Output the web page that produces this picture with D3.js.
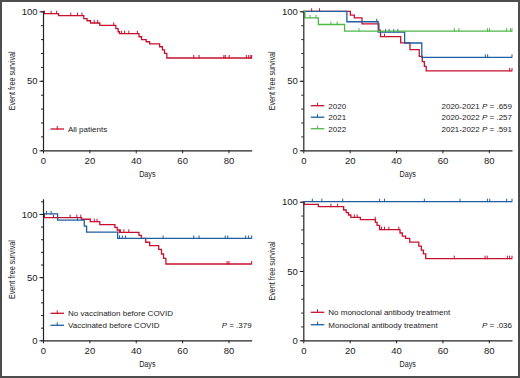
<!DOCTYPE html>
<html>
<head>
<meta charset="utf-8">
<script src="https://cdn.jsdelivr.net/npm/d3@7"></script>
<style>
  body { margin: 0; background: #fff; }
  svg { display: block; }
</style>
</head>
<body>
<svg id="chart"></svg>
<script>
// --- Daten ---
const dayTicks = [0, 20, 40, 60, 80];
const survTicks = [0, 50, 100];
const maxDay = 90;

// Panel A: alle Patienten
const allSteps = [[0,100],[0.6,98.3],[6.7,96.9],[17.6,94.7],[19,93.2],[20.5,91.6],[24.5,89.9],
  [31.4,87.5],[32.4,85.3],[33,83.9],[41.4,81.7],[42.5,79.6],[44.5,78.1],[46,76.5],
  [50.3,74.5],[51.5,72.2],[52.4,69.8],[53.4,66.4]];
const allCens = [3.5,5.9,12,14.9,16.8,22.1,23.6,30.5,33.9,35.2,37,40.7,65,67.3,78,78.6,80.3,87.7,88.7,89.6,90];

// Panel B: nach Jahr
const y2020Steps = [[0,100],[20.3,97.2],[22,95.2],[25.3,91],[32.6,86.4],[33.3,81.8],[42,77.3],
  [46,72.4],[50,67.6],[51.3,63.8],[52.2,60.4],[53,57.1]];
const y2020Cens = [3.6,7,35,89,90];
const y2021Steps = [[0,100],[18.8,92.5],[32.3,85],[43.7,77.2],[51.1,66.9]];
const y2021Cens = [31.7,35.5,37,39,40.8,78.5,79.5,90];
const y2022Steps = [[0,100],[0.7,95.2],[6.5,90.5],[17.8,85.7]];
const y2022Cens = [2.9,5.5,11.9,14.6,24,65.1,67.1,79.4,80.3,87.6,89.4,90];
const yearP = [["2020-2021", ".659"], ["2020-2022", ".257"], ["2021-2022", ".591"]];

// Panel C: Impfung
const noVaxSteps = [[0,100],[0.6,97.1],[16.6,95.8],[20.4,93.9],[24.5,91.6],[31,89.4],[32,87.3],
  [32.9,85.5],[41.4,83.1],[42.4,80.7],[44.3,77.6],[46,74.9],[49.9,72],[51.1,68.3],[52,64.9],[53,60.4]];
const noVaxCens = [4.5,11.7,14.6,16.3,22.1,23.3,33.4,34.9,37,79.4,80.2,90];
const vaxSteps = [[0,100],[6.3,95.2],[17.8,90.3],[18.8,85.6],[32.2,80.6]];
const vaxCens = [1.5,3.5,14.9,33,34.2,35.6,51.8,65,67.3,78.6,79.7,87.4,88.7,90];
const vaxP = ".379";

// Panel D: monoklonale Antikoerper
const noMabSteps = [[0,100],[0.4,98.1],[6.5,96.4],[17.4,94],[18.5,92.1],[19.5,90.4],[20.5,88.7],
  [24.6,87],[31.1,85.1],[31.8,82.9],[32.9,79.8],[41.7,77.4],[42.7,75.2],[44.1,73.6],[45.9,70.9],
  [49.8,68],[50.9,65.1],[51.8,62.3],[52.8,58.9]];
const noMabCens = [11.9,14.8,22,23.2,31,33.7,35,36.9,41.2,65.1,78.4,79.3,88,89,90];
const mabSteps = [[0,100]];
const mabCens = [3.9,8,17,32.9,35,52.2,67.6,79.4,80.4,87.7,90];
const mabP = ".036";

// --- Farben / Layout ---
const RED = "#c8102e", BLUE = "#1f5f9e", GREEN = "#4fb848";
const width = 520, height = 378;
const plotW = 208.7;
const font = "'Liberation Sans', Arial, sans-serif";

const svg = d3.select("#chart")
  .attr("width", width)
  .attr("height", height)
  .attr("viewBox", `0 0 ${width} ${height}`);

svg.append("rect")
  .attr("width", width).attr("height", height)
  .attr("fill", "#fff");

const panels = [
  { x0: 43, yTop: 11.3, yBottom: 150.3, yMax: 100,
    series: [{ name: "All patients", steps: allSteps, cens: allCens, color: RED }],
    legendY: [129], pRows: [] },
  { x0: 303.3, yTop: 11.3, yBottom: 150.3, yMax: 100,
    series: [
      { name: "2020", steps: y2020Steps, cens: y2020Cens, color: RED },
      { name: "2021", steps: y2021Steps, cens: y2021Cens, color: BLUE },
      { name: "2022", steps: y2022Steps, cens: y2022Cens, color: GREEN }],
    legendY: [105.7, 117.2, 128.7],
    pRows: yearP.map((p, i) => ({ label: p[0] + " ", val: p[1], y: [105.7, 117.2, 128.7][i] })) },
  { x0: 43, yTop: 198.8, yBottom: 340.3, yMax: 112,
    series: [
      { name: "No vaccination before COVID", steps: noVaxSteps, cens: noVaxCens, color: RED },
      { name: "Vaccinated before COVID", steps: vaxSteps, cens: vaxCens, color: BLUE }],
    legendY: [313.3, 325.3],
    pRows: [{ label: "", val: vaxP, y: 325.3 }] },
  { x0: 303.3, yTop: 201.7, yBottom: 340.3, yMax: 100,
    series: [
      { name: "No monoclonal antibody treatment", steps: noMabSteps, cens: noMabCens, color: RED },
      { name: "Monoclonal antibody treatment", steps: mabSteps, cens: mabCens, color: BLUE }],
    legendY: [312.3, 324.7],
    pRows: [{ label: "", val: mabP, y: 324.7 }] }
];

panels.forEach(drawPanel);

function drawPanel(p) {
  const x = d3.scaleLinear().domain([0, maxDay]).range([p.x0, p.x0 + plotW]);
  const y = d3.scaleLinear().domain([0, p.yMax]).range([p.yBottom, p.yTop]);
  const g = svg.append("g");

  // Kurven
  p.series.forEach(s => {
    const pts = s.steps.concat([[maxDay, s.steps[s.steps.length - 1][1]]]);
    g.append("path")
      .attr("d", d3.line().x(d => x(d[0])).y(d => y(d[1])).curve(d3.curveStepAfter)(pts))
      .attr("fill", "none")
      .attr("stroke", s.color)
      .attr("stroke-width", 1.3);

    const bis = d3.bisector(d => d[0]).right;
    g.selectAll(null)
      .data(s.cens)
      .join("line")
      .attr("x1", d => x(d)).attr("x2", d => x(d))
      .attr("y1", d => y(s.steps[bis(s.steps, d) - 1][1]) + 0.5)
      .attr("y2", d => y(s.steps[bis(s.steps, d) - 1][1]) - 3)
      .attr("stroke", s.color)
      .attr("stroke-width", 1);
  });

  // Achsen
  const yMinor = d3.range(0, p.yMax + 0.1, 10);
  g.append("g")
    .attr("transform", `translate(${p.x0},0)`)
    .call(d3.axisLeft(y).tickValues(yMinor).tickSize(2).tickSizeOuter(0).tickFormat(""));
  g.append("g")
    .attr("transform", `translate(${p.x0},0)`)
    .call(d3.axisLeft(y).tickValues(survTicks).tickSize(3.5).tickSizeOuter(0).tickPadding(2))
    .call(a => a.select(".domain").remove());

  g.append("g")
    .attr("transform", `translate(0,${p.yBottom})`)
    .call(d3.axisBottom(x).tickValues(dayTicks).tickSize(3).tickSizeOuter(0).tickPadding(3.5));

  g.selectAll(".domain").attr("stroke", "#222").attr("stroke-width", 1.2);
  g.selectAll(".tick line").attr("stroke", "#222").attr("stroke-width", 1);
  g.selectAll(".tick text")
    .attr("font-family", font)
    .attr("font-size", 9.5)
    .attr("fill", "#222");

  // Achsentitel (schmal gestaucht)
  g.append("text")
    .attr("transform", `translate(${p.x0 - 28.5},${(p.yTop + p.yBottom) / 2}) rotate(-90) scale(0.78,1)`)
    .attr("text-anchor", "middle")
    .attr("font-family", font)
    .attr("font-size", 9.2)
    .attr("fill", "#222")
    .text("Event free survival");
  g.append("text")
    .attr("transform", `translate(${p.x0 + plotW / 2},${p.yBottom + 27}) scale(0.78,1)`)
    .attr("text-anchor", "middle")
    .attr("font-family", font)
    .attr("font-size", 9.2)
    .attr("fill", "#222")
    .text("Days");

  // Legende
  p.series.forEach((s, i) => {
    const ly = p.legendY[i];
    const lx = p.x0 + 7.5;
    g.append("line")
      .attr("x1", lx).attr("x2", lx + 13.5)
      .attr("y1", ly).attr("y2", ly)
      .attr("stroke", s.color).attr("stroke-width", 1.3);
    g.append("line")
      .attr("x1", lx + 6.75).attr("x2", lx + 6.75)
      .attr("y1", ly + 0.5).attr("y2", ly - 3)
      .attr("stroke", s.color).attr("stroke-width", 1);
    g.append("text")
      .attr("x", lx + 17.5)
      .attr("y", ly + 2.8)
      .attr("font-family", font)
      .attr("font-size", 8)
      .attr("fill", "#222")
      .text(s.name);
  });

  // P-Werte
  p.pRows.forEach(r => {
    const t = g.append("text")
      .attr("x", p.x0 + plotW)
      .attr("y", r.y + 2.8)
      .attr("text-anchor", "end")
      .attr("font-family", font)
      .attr("font-size", 8)
      .attr("fill", "#222");
    t.append("tspan").text(r.label);
    t.append("tspan").attr("font-style", "italic").text("P");
    t.append("tspan").text(" = " + r.val);
  });
}

// Rahmen
svg.append("rect")
  .attr("x", 1).attr("y", 1)
  .attr("width", width - 2).attr("height", height - 2)
  .attr("fill", "none")
  .attr("stroke", "#4d4d4d")
  .attr("stroke-width", 2);
</script>
</body>
</html>
